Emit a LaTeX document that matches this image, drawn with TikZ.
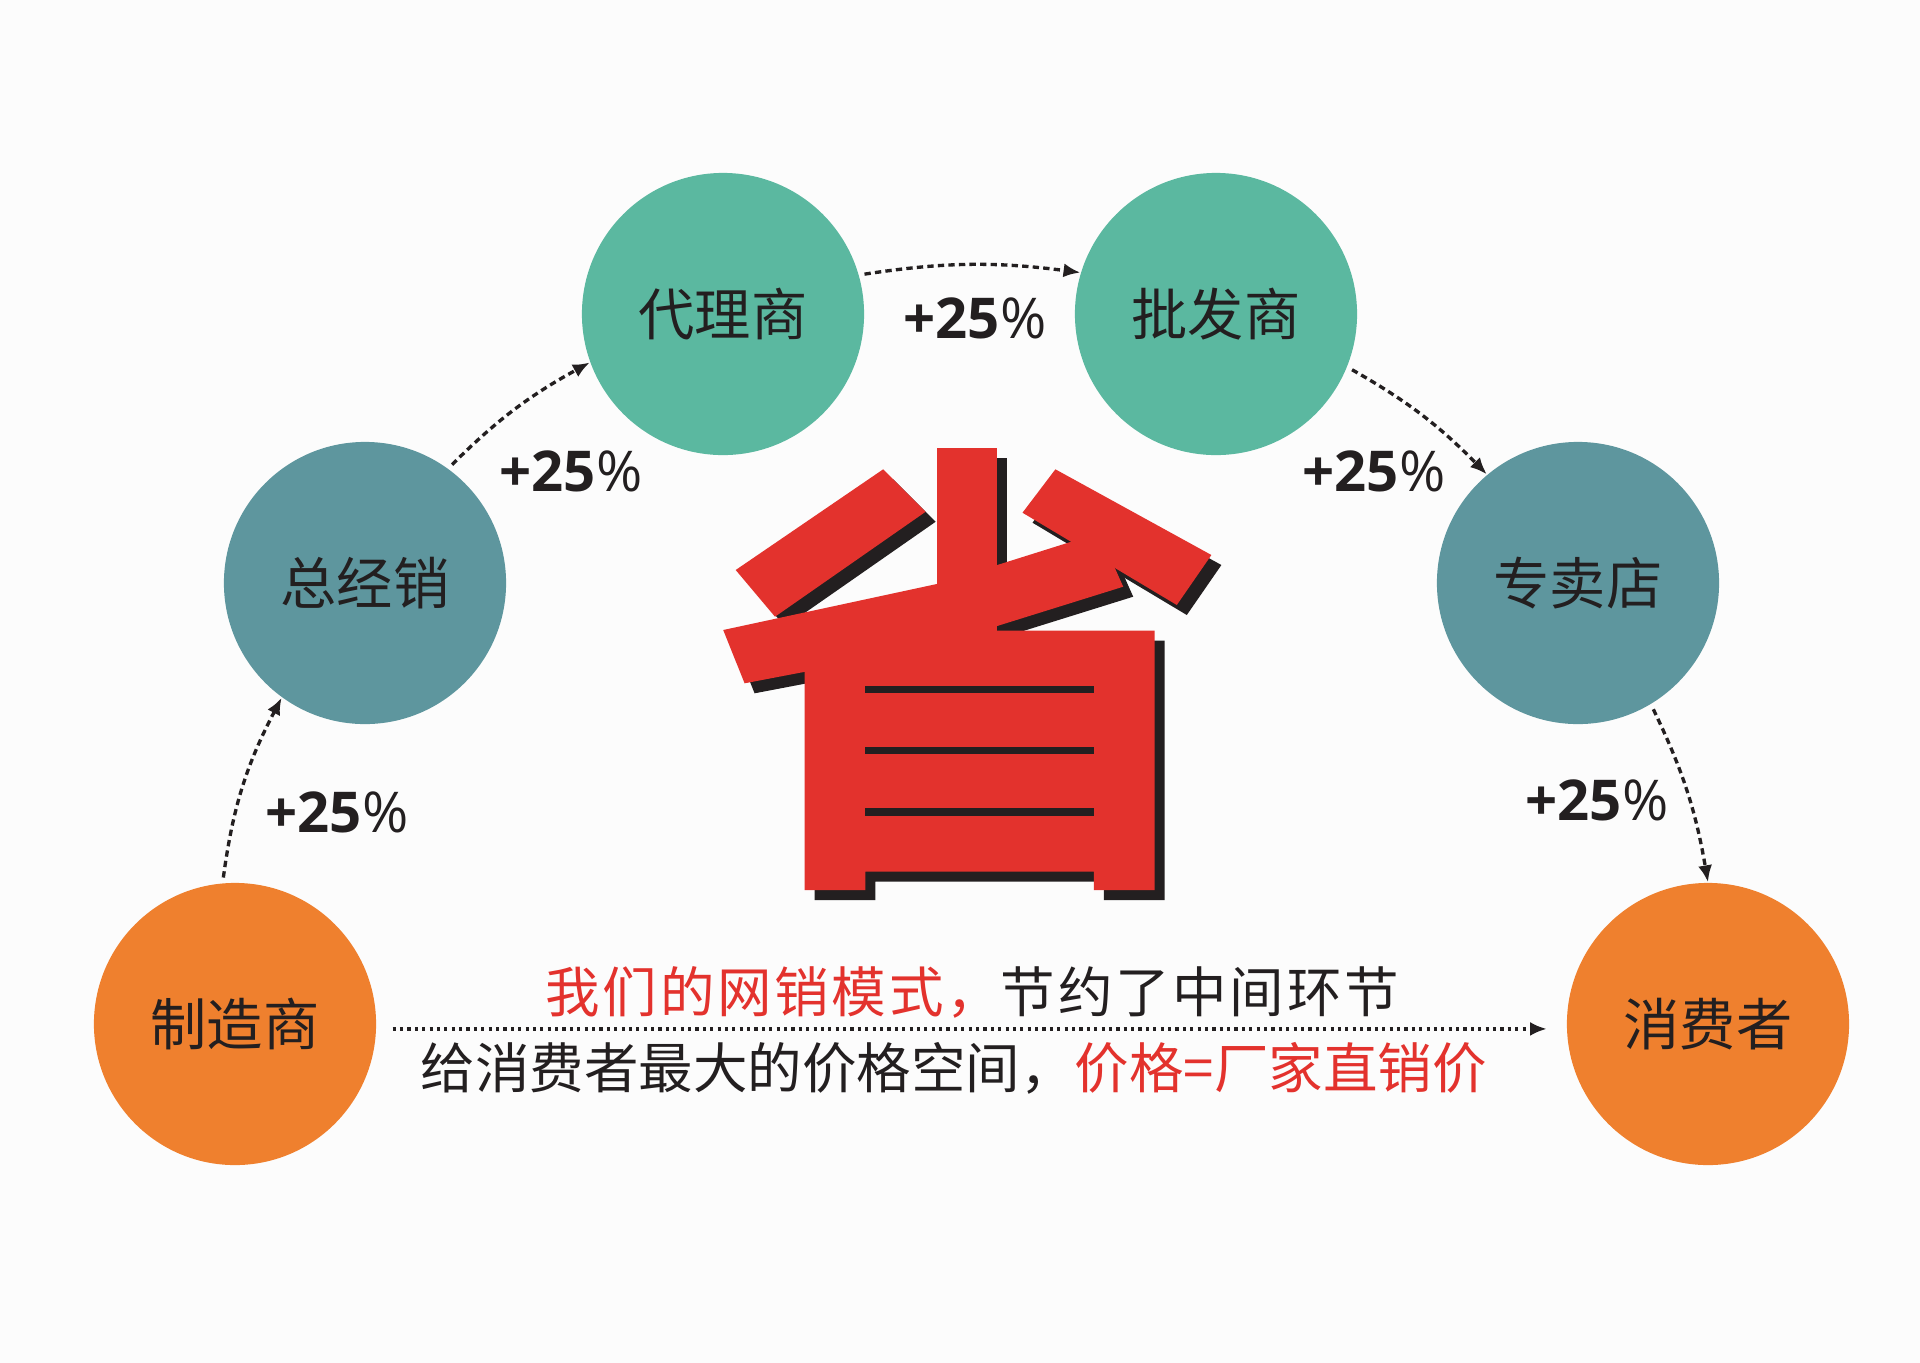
\documentclass[tikz,border=0pt]{standalone}
\usepackage{fontspec}
\setmainfont{Noto Sans CJK SC}
\newfontfamily\pctfont{Open Sans}
\usetikzlibrary{arrows.meta}

\begin{document}
\begin{tikzpicture}[x=0.01cm, y=-0.01cm,
		% Styles
		station/.style={circle, minimum size=2.82cm, inner sep=0pt, text=ink, font=\fontsize{16}{16}\selectfont},
		rise/.style={inner sep=0pt, text=ink, font=\pctfont\bfseries\fontsize{16}{16}\selectfont},
		slogan/.style={inner sep=0pt, anchor=west, text=ink, font=\fontsize{15.5}{15.5}\selectfont},
		flow/.style={line width=0.95pt, ink, dash pattern=on 1.8pt off 1.2pt, -{Latex[length=4.8pt, width=4pt]}, shorten <=1.5pt}
		]
		
		% Colors
		\definecolor{paper}{HTML}{FCFCFC}
		\definecolor{ink}{HTML}{231F20}
		\definecolor{greencolor}{HTML}{5BB8A0}
		\definecolor{bluecolor}{HTML}{5E969E}
		\definecolor{orangecolor}{HTML}{EF802E}
		\definecolor{shengred}{HTML}{E3322D}
		
		\fill[paper] (0, 0) rectangle (1920, 1363);
		
		% The big character: shadow first, red on top
		\foreach \layer/\offset in {ink/10, shengred/0} {
			\begin{scope}[shift={(\offset, \offset)}]
				\fill[\layer] (936.8, 448.3) rectangle (997.1, 640); % stem
				\fill[\layer] (735.7, 570) -- (883.2, 469.3) -- (925.7, 511.7) -- (775, 616.7) -- cycle; % left dot
				\fill[\layer] (1022.5, 512.7) -- (1055.4, 469.3) -- (1211.4, 555) -- (1176.8, 605) -- cycle; % right dot
				\fill[\layer] (723.2, 630) -- (936.8, 584) -- (1071.4, 541.7) -- (1092.9, 535) -- (1114.3, 566.7)
					-- (1123.2, 586.7) -- (982.1, 630.7) -- (805.4, 671.7) -- (744.6, 683.3) -- cycle; % slanted stroke
				\fill[\layer] (804.6, 630.7) -- (1154.6, 630.7) -- (1154.6, 890) -- (1093.9, 890) -- (1093.9, 871.7)
					-- (865.4, 871.7) -- (865.4, 890) -- (804.6, 890) -- cycle; % box
			\end{scope}
		}
		\foreach \y in {685.7, 746.7, 808.3}
			\fill[ink] (865.4, \y) rectangle +(228.5, 7.5);
		
		% Circles
		\node[station, fill=orangecolor] (maker) at (235, 1024) {制造商};
		\node[station, fill=bluecolor] (general) at (365, 583) {总经销};
		\node[station, fill=greencolor] (agent) at (723, 314) {代理商};
		\node[station, fill=greencolor] (wholesale) at (1216, 314) {批发商};
		\node[station, fill=bluecolor] (store) at (1578, 583) {专卖店};
		\node[station, fill=orangecolor] (consumer) at (1708, 1024) {消费者};
		
		% Price steps
		\draw[flow] (maker.95) to[bend left=10] (general.234);
		\draw[flow] (general.54) to[bend left=8] (agent.200);
		\draw[flow] (agent.16) to[bend left=8] (wholesale.163);
		\draw[flow] (wholesale.338) to[bend left=8] (store.130);
		\draw[flow] (store.301) to[bend left=8] (consumer.90);
		
		\node[rise] (rise1) at (337, 812) {+25{\mdseries\%}};
		\node[rise] (rise2) at (571, 471) {+25{\mdseries\%}};
		\node[rise] (rise3) at (975, 318) {+25{\mdseries\%}};
		\node[rise] (rise4) at (1374, 471) {+25{\mdseries\%}};
		\node[rise] (rise5) at (1597, 800) {+25{\mdseries\%}};
		
		% Direct line
		\draw[flow, dash pattern=on 0.9pt off 1.2pt, shorten <=4.5pt, shorten >=5.5pt] ([yshift=-1.4pt]maker.east) -- ([yshift=-1.4pt]consumer.west);
		
		\node[slogan] (line1) at (545, 992) {\addfontfeature{LetterSpace=5}\textcolor{shengred}{我们的网销模式，}节约了中间环节};
		\node[slogan] (line2) at (420, 1068) {给消费者最大的价格空间，\textcolor{shengred}{价格=厂家直销价}};
		
	\end{tikzpicture}
\end{document}
